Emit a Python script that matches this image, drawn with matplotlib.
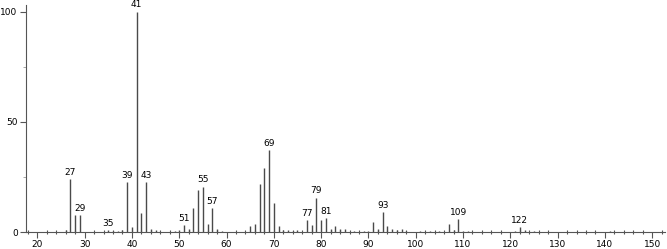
import matplotlib.pyplot as plt
from matplotlib.ticker import MultipleLocator

# m/z values and relative intensities
mz = [26, 27, 28, 29, 35, 36, 37, 38, 39, 40, 41, 42, 43, 44, 45,
      49, 50, 51, 52, 53, 54, 55, 56, 57, 58, 59,
      65, 66, 67, 68, 69, 70, 71, 72, 73, 74, 75, 77, 78, 79, 80, 81,
      82, 83, 84, 85, 87, 89, 90, 91, 92, 93, 94, 95, 96, 97, 98,
      101, 103, 105, 107, 108, 109, 110, 111, 121, 122, 123, 125, 141]
intensity = [1.0, 24.0, 7.6, 7.7, 0.8, 0.6, 0.5, 0.8, 22.5, 2.4, 100, 8.5, 22.8, 1.5, 1.0,
             0.4, 1.0, 3.2, 1.5, 10.9, 19.0, 20.6, 3.6, 11.0, 1.5, 0.5,
             2.9, 3.8, 21.7, 29.0, 37.3, 13.3, 2.9, 0.8, 1.0, 0.6, 1.0, 5.5, 3.0, 15.6, 5.5, 6.2,
             1.5, 2.9, 1.3, 1.5, 0.7, 0.5, 0.5, 4.5, 1.5, 9.0, 2.7, 1.3, 0.8, 1.3, 0.5,
             0.3, 0.4, 0.4, 3.6, 0.8, 5.8, 0.5, 0.6, 0.5, 2.4, 1.0, 0.3, 0.3]
labelled = [27, 29, 35, 39, 41, 43, 51, 55, 57, 69, 77, 79, 81, 93, 109, 122]

fig = plt.figure(figsize=(6.67, 2.49), dpi=100)
ax = fig.add_axes([0.039, 0.068, 0.958, 0.912])

ax.vlines(mz, 0, intensity, color='#4a4a4a', linewidth=1.0)

for m, v in zip(mz, intensity):
    if m in labelled:
        ax.text(m, v + 1.0, str(m), ha='center', va='bottom', fontsize=6.5)

ax.set_xlim(17.6, 152.7)
ax.set_ylim(0, 103)

ax.spines['top'].set_visible(False)
ax.spines['right'].set_visible(False)
ax.spines['left'].set_color('#555555')
ax.spines['bottom'].set_color('#555555')

ax.xaxis.set_major_locator(MultipleLocator(10))
ax.xaxis.set_minor_locator(MultipleLocator(2))
ax.set_yticks([0, 50, 100])
ax.yaxis.set_minor_locator(MultipleLocator(25))
ax.tick_params(axis='both', which='major', labelsize=6.5, length=4, width=0.8,
               color='#555555', pad=2)
ax.tick_params(axis='x', which='minor', direction='inout', length=3, width=0.8, color='#555555')
ax.tick_params(axis='y', which='minor', length=2, width=0.6, color='#999999')

fig.savefig('out.png', dpi=100)
